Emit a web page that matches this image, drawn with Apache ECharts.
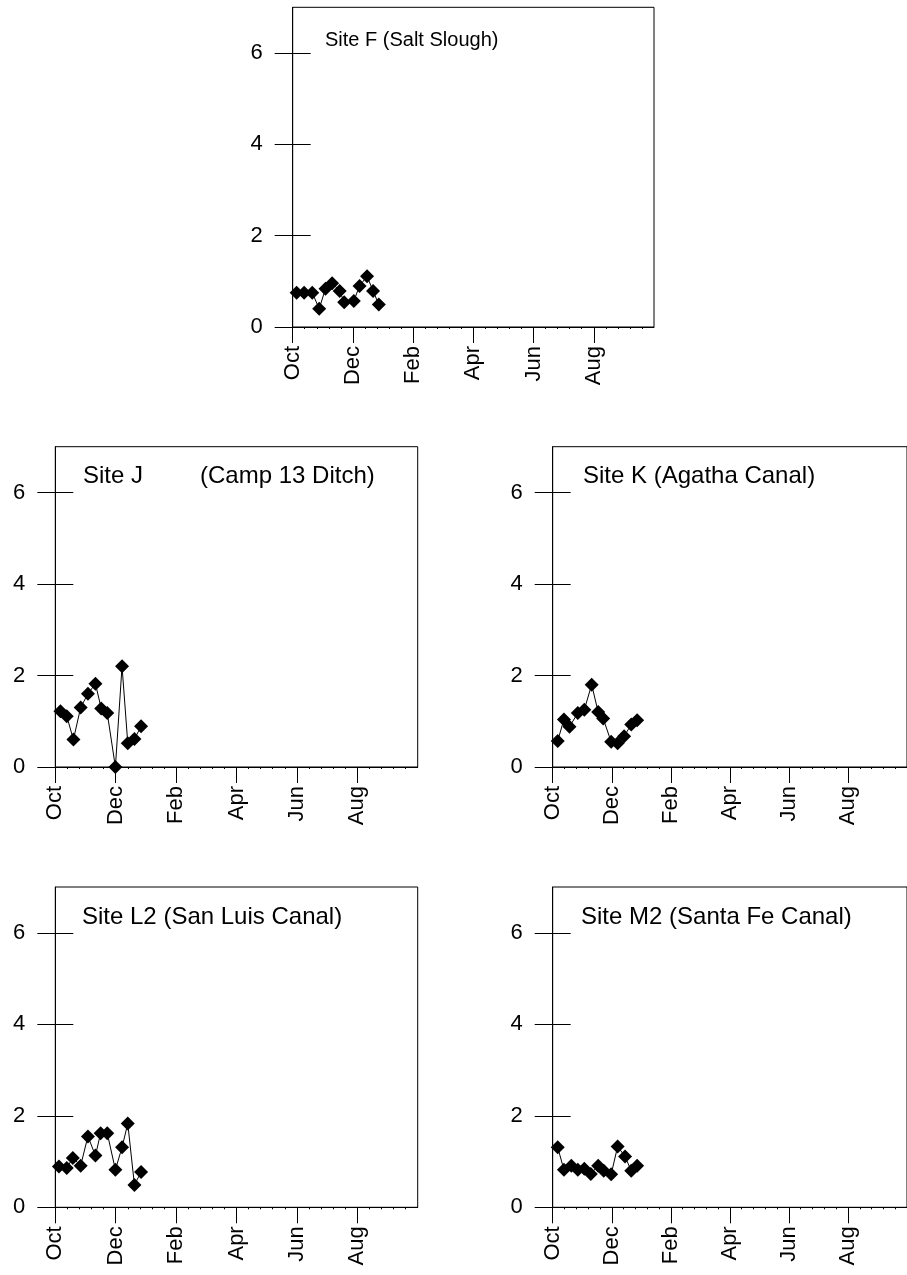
<!DOCTYPE html>
<html><head><meta charset="utf-8">
<script src="https://cdn.jsdelivr.net/npm/echarts@6/dist/echarts.min.js"></script>
<style>html,body{margin:0;padding:0;background:#fff}#c{width:907px;height:1275px}</style>
</head><body><div id="c"></div>
<script>
// Month tick labels (x value = months since 1 Oct)
const monthLabels = ['Oct', 'Dec', 'Feb', 'Apr', 'Jun', 'Aug'];
const xTicks = [0, 2, 4, 6, 8, 10];
const yTicks = [0, 2, 4, 6];

const siteNames = ['Site F (Salt Slough)', 'Site J', 'Site K (Agatha Canal)', 'Site L2 (San Luis Canal)', 'Site M2 (Santa Fe Canal)'];
const extraLabel = '(Camp 13 Ditch)';

const xF = [0.13, 0.38, 0.65, 0.88, 1.09, 1.31, 1.56, 1.71, 2.03, 2.22, 2.47, 2.67, 2.86];
const yF = [0.75, 0.75, 0.75, 0.40, 0.84, 0.96, 0.79, 0.54, 0.57, 0.90, 1.11, 0.79, 0.49];

const xJ = [0.17, 0.38, 0.60, 0.84, 1.08, 1.33, 1.52, 1.72, 1.99, 2.21, 2.40, 2.62, 2.84];
const yJ = [1.22, 1.11, 0.60, 1.30, 1.60, 1.82, 1.28, 1.18, 0.00, 2.20, 0.52, 0.61, 0.89];

const xK = [0.17, 0.38, 0.57, 0.85, 1.07, 1.32, 1.54, 1.71, 1.98, 2.20, 2.42, 2.66, 2.86];
const yK = [0.57, 1.04, 0.88, 1.18, 1.25, 1.80, 1.20, 1.06, 0.55, 0.52, 0.67, 0.93, 1.02];

const xL2 = [0.12, 0.38, 0.58, 0.84, 1.08, 1.33, 1.50, 1.72, 1.99, 2.21, 2.40, 2.62, 2.84];
const yL2 = [0.89, 0.86, 1.08, 0.91, 1.55, 1.13, 1.62, 1.62, 0.82, 1.31, 1.83, 0.49, 0.77];

const xM2 = [0.17, 0.38, 0.63, 0.85, 1.07, 1.29, 1.54, 1.73, 1.98, 2.20, 2.45, 2.66, 2.86];
const yM2 = [1.31, 0.82, 0.91, 0.82, 0.84, 0.73, 0.91, 0.80, 0.72, 1.33, 1.11, 0.80, 0.91];

const seriesX = [xF, xJ, xK, xL2, xM2];
const seriesY = [yF, yJ, yK, yL2, yM2];

const FONT = 'Liberation Sans, Arial, sans-serif';
const FS = 22;

const panels = [
  { left: 292.7, top: 7.3, width: 361.3, height: 319.7, title: [325, 30], tfs: 20 },
  { left: 55.3, top: 446.7, width: 362.4, height: 320.3, title: [83, 464], tfs: 24 },
  { left: 552.7, top: 446.7, width: 362.4, height: 320.3, title: [583, 464], tfs: 24 },
  { left: 55.3, top: 887, width: 362.4, height: 320.3, title: [82, 905], tfs: 24 },
  { left: 552.7, top: 887, width: 362.4, height: 320.3, title: [581, 905], tfs: 24 }
];

const grid = [], xAxis = [], yAxis = [], series = [], title = [];
panels.forEach((p, i) => {
  grid.push({ left: p.left, top: p.top, width: p.width, height: p.height, show: true,
    borderColor: '#000', borderWidth: 1, backgroundColor: 'transparent', containLabel: false });
  xAxis.push({
    type: 'value', gridIndex: i, min: 0, max: 12, interval: 2,
    axisLine: { show: true, onZero: false, lineStyle: { color: '#000', width: 1 } },
    axisTick: { show: true, length: 16, inside: false, customValues: xTicks, lineStyle: { color: '#000' } },
    minorTick: { show: true, splitNumber: 5, length: 2, lineStyle: { color: '#000' } },
    axisLabel: { show: true, rotate: 90, margin: 19, fontSize: FS, fontFamily: FONT, color: '#000',
      customValues: xTicks, formatter: v => monthLabels[Math.round(v / 2)] || '' },
    splitLine: { show: false }
  });
  yAxis.push({
    type: 'value', gridIndex: i, min: 0, max: 7, interval: 1, position: 'left',
    axisLine: { show: true, onZero: false, lineStyle: { color: '#000', width: 1 } },
    axisTick: { show: true, length: 18, inside: false, customValues: yTicks, lineStyle: { color: '#000' } },
    axisLabel: { show: true, margin: 30, fontSize: FS, fontFamily: FONT, color: '#000', customValues: yTicks },
    splitLine: { show: false }
  });
  yAxis.push({
    type: 'value', gridIndex: i, min: 0, max: 7, interval: 1, position: 'left', offset: 0,
    axisLine: { show: false },
    axisTick: { show: true, length: 18, inside: true, customValues: yTicks, lineStyle: { color: '#000' } },
    axisLabel: { show: false },
    splitLine: { show: false }
  });
  series.push({
    type: 'line', xAxisIndex: i, yAxisIndex: 2 * i,
    data: seriesX[i].map((x, k) => [x, seriesY[i][k]]),
    symbol: 'diamond', symbolSize: 14, showAllSymbol: true, clip: false,
    itemStyle: { color: '#000' }, lineStyle: { color: '#000', width: 1 },
    animation: false
  });
  title.push({ text: siteNames[i], left: p.title[0], top: p.title[1], padding: 0,
    textStyle: { fontSize: p.tfs, fontWeight: 'normal', fontFamily: FONT, color: '#000' } });
});
title.push({ text: extraLabel, left: 200, top: 464, padding: 0,
  textStyle: { fontSize: 24, fontWeight: 'normal', fontFamily: FONT, color: '#000' } });

const chart = echarts.init(document.getElementById('c'), null, { renderer: 'canvas' });
chart.setOption({ animation: false, backgroundColor: '#fff', title, grid, xAxis, yAxis, series });
</script></body></html>
